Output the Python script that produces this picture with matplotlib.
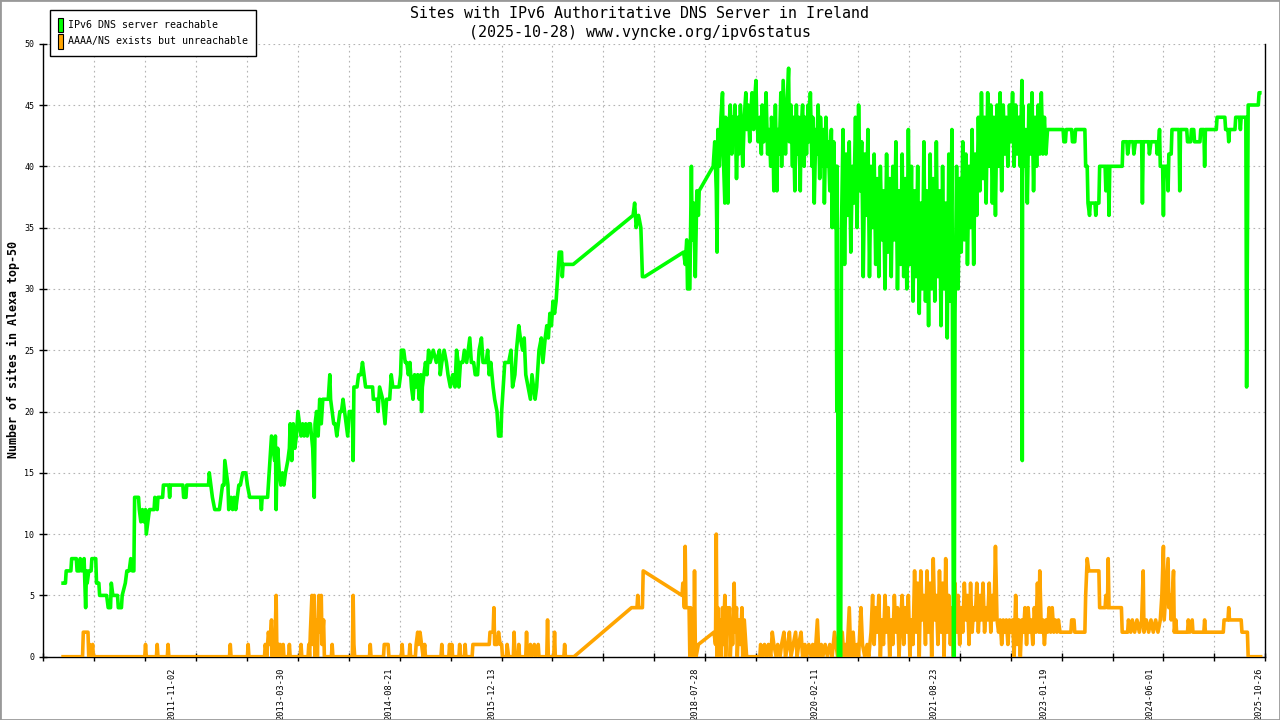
#!/usr/bin/env python3
"""Sites with IPv6 authoritative DNS server in Ireland - recreated chart."""

import datetime as dt
import numpy as np
import matplotlib
matplotlib.use('Agg')
import matplotlib.pyplot as plt
from matplotlib.patches import Patch, Rectangle

# --- data: (decimal year, number of sites) ---
green_2010_2014 = [
    (2010.44, 6), (2010.47, 6), (2010.48, 7), (2010.54, 7), (2010.55, 8), (2010.61, 8),
    (2010.62, 7), (2010.65, 7), (2010.66, 8), (2010.68, 7), (2010.71, 8), (2010.72, 6),
    (2010.73, 4), (2010.74, 7), (2010.75, 6), (2010.77, 7), (2010.80, 7), (2010.81, 8),
    (2010.86, 8), (2010.87, 6), (2010.90, 6), (2010.91, 5), (2011.00, 5), (2011.02, 4),
    (2011.05, 4), (2011.06, 6), (2011.08, 5), (2011.14, 5), (2011.15, 4), (2011.19, 4),
    (2011.20, 5), (2011.24, 6), (2011.26, 7), (2011.29, 7), (2011.31, 8), (2011.33, 7),
    (2011.35, 7), (2011.36, 13), (2011.41, 13), (2011.42, 12), (2011.44, 11), (2011.46, 12),
    (2011.48, 11), (2011.50, 12), (2011.51, 10), (2011.53, 11), (2011.55, 12), (2011.61, 12),
    (2011.62, 13), (2011.65, 12), (2011.66, 13), (2011.72, 13), (2011.73, 14), (2011.80, 14),
    (2011.81, 13), (2011.82, 14), (2011.98, 14), (2011.99, 13), (2012.02, 13), (2012.03, 14),
    (2012.31, 14), (2012.32, 15), (2012.34, 14), (2012.36, 13), (2012.39, 12), (2012.45, 12),
    (2012.47, 13), (2012.49, 14), (2012.51, 14), (2012.52, 16), (2012.54, 15), (2012.56, 14),
    (2012.57, 12), (2012.60, 13), (2012.62, 12), (2012.64, 13), (2012.66, 12), (2012.68, 13),
    (2012.70, 14), (2012.72, 14), (2012.75, 15), (2012.79, 15), (2012.81, 14), (2012.84, 13),
    (2012.98, 13), (2012.99, 12), (2013.00, 13), (2013.07, 13), (2013.08, 14), (2013.10, 16),
    (2013.11, 17), (2013.12, 18), (2013.14, 17), (2013.16, 16), (2013.17, 18), (2013.18, 12),
    (2013.19, 16), (2013.20, 17), (2013.22, 15), (2013.24, 14), (2013.26, 15), (2013.28, 14),
    (2013.30, 15), (2013.33, 16), (2013.35, 17), (2013.36, 19), (2013.38, 16), (2013.40, 19),
    (2013.42, 17), (2013.44, 18), (2013.46, 20), (2013.48, 19), (2013.50, 18), (2013.52, 19),
    (2013.54, 18), (2013.56, 19), (2013.58, 18), (2013.60, 19), (2013.62, 19), (2013.65, 17),
    (2013.67, 13), (2013.68, 19), (2013.70, 20), (2013.72, 18), (2013.74, 21), (2013.76, 19),
    (2013.78, 21), (2013.85, 21), (2013.87, 23), (2013.88, 21), (2013.90, 20), (2013.92, 19),
    (2013.94, 19), (2013.96, 18), (2013.98, 19), (2014.00, 20), (2014.02, 20), (2014.04, 21),
    (2014.06, 20), (2014.08, 19), (2014.10, 18), (2014.12, 20), (2014.16, 20), (2014.17, 16),
    (2014.18, 22), (2014.22, 22), (2014.24, 23), (2014.27, 23), (2014.29, 24), (2014.31, 23),
    (2014.33, 22), (2014.42, 22), (2014.43, 21), (2014.48, 21), (2014.49, 20), (2014.51, 22),
    (2014.55, 21), (2014.58, 19), (2014.60, 21), (2014.64, 21), (2014.66, 23), (2014.68, 22),
    (2014.76, 22), (2014.78, 23), (2014.79, 25), (2014.82, 25), (2014.84, 24), (2014.86, 24),
]

green_2014_2018 = [
    (2014.88, 23), (2014.90, 24), (2014.92, 22), (2014.94, 21), (2014.96, 23), (2014.98, 22),
    (2015.00, 23), (2015.02, 21), (2015.04, 23), (2015.05, 20), (2015.06, 22), (2015.08, 23),
    (2015.10, 24), (2015.12, 23), (2015.14, 25), (2015.16, 24), (2015.20, 25), (2015.24, 24),
    (2015.28, 25), (2015.29, 23), (2015.31, 24), (2015.34, 25), (2015.37, 24), (2015.39, 23),
    (2015.42, 22), (2015.45, 23), (2015.48, 22), (2015.50, 25), (2015.52, 24), (2015.53, 22),
    (2015.55, 24), (2015.58, 24), (2015.60, 25), (2015.63, 24), (2015.65, 25), (2015.67, 26),
    (2015.69, 24), (2015.72, 24), (2015.74, 23), (2015.77, 23), (2015.79, 25), (2015.82, 26),
    (2015.84, 24), (2015.88, 24), (2015.90, 25), (2015.92, 23), (2015.94, 24), (2015.97, 22),
    (2015.99, 21), (2016.02, 20), (2016.04, 18), (2016.07, 18), (2016.08, 20), (2016.10, 22),
    (2016.12, 24), (2016.17, 24), (2016.20, 25), (2016.22, 22), (2016.25, 23), (2016.27, 25),
    (2016.30, 27), (2016.32, 26), (2016.35, 25), (2016.37, 26), (2016.39, 23), (2016.42, 22),
    (2016.45, 21), (2016.47, 23), (2016.49, 22), (2016.51, 21), (2016.53, 22), (2016.56, 25),
    (2016.59, 26), (2016.61, 24), (2016.64, 26), (2016.66, 27), (2016.68, 26), (2016.70, 28),
    (2016.72, 27), (2016.74, 29), (2016.76, 28), (2016.78, 29), (2016.80, 31), (2016.82, 33),
    (2016.85, 33), (2016.86, 31), (2016.87, 32), (2017.00, 32), (2017.77, 36), (2017.79, 37),
    (2017.81, 35), (2017.84, 36), (2017.87, 35), (2017.89, 31), (2017.92, 31), (2018.42, 33),
    (2018.44, 32), (2018.46, 34), (2018.47, 30), (2018.50, 30), (2018.52, 40), (2018.53, 34),
    (2018.55, 37), (2018.57, 31), (2018.59, 38), (2018.61, 36), (2018.62, 38),
]

green_2018_2020 = [
    (2018.80, 40), (2018.82, 42), (2018.84, 38), (2018.85, 33), (2018.86, 43), (2018.88, 40),
    (2018.90, 44), (2018.92, 46), (2018.93, 41), (2018.95, 37), (2018.96, 44), (2018.98, 40),
    (2018.99, 37), (2019.00, 43), (2019.02, 45), (2019.04, 41), (2019.05, 44), (2019.07, 42),
    (2019.08, 45), (2019.10, 39), (2019.12, 44), (2019.13, 41), (2019.15, 45), (2019.17, 42),
    (2019.18, 40), (2019.20, 44), (2019.22, 46), (2019.23, 43), (2019.25, 45), (2019.27, 42),
    (2019.28, 44), (2019.30, 46), (2019.32, 43), (2019.33, 45), (2019.35, 47), (2019.36, 44),
    (2019.38, 42), (2019.40, 44), (2019.42, 41), (2019.43, 45), (2019.45, 42), (2019.47, 44),
    (2019.48, 46), (2019.50, 41), (2019.52, 43), (2019.54, 40), (2019.55, 44), (2019.57, 42),
    (2019.58, 38), (2019.60, 45), (2019.62, 38), (2019.63, 43), (2019.65, 41), (2019.67, 46),
    (2019.68, 40), (2019.70, 47), (2019.72, 43), (2019.73, 41), (2019.75, 45), (2019.77, 48),
    (2019.78, 42), (2019.80, 45), (2019.82, 40), (2019.83, 44), (2019.85, 38), (2019.87, 45),
    (2019.88, 41), (2019.90, 44), (2019.92, 38), (2019.93, 43), (2019.95, 45), (2019.97, 40),
    (2019.98, 44), (2020.00, 41), (2020.02, 45), (2020.03, 42), (2020.05, 46), (2020.07, 40),
    (2020.08, 44), (2020.10, 37), (2020.12, 43), (2020.13, 41), (2020.15, 45), (2020.17, 39),
    (2020.18, 44), (2020.20, 40), (2020.22, 43), (2020.23, 37), (2020.25, 44), (2020.27, 40),
    (2020.28, 42), (2020.30, 38), (2020.32, 43), (2020.33, 35), (2020.35, 42), (2020.37, 35),
    (2020.38, 40), (2020.39, 20), (2020.395, 40), (2020.41, 0), (2020.44, 0),
]

green_2020_2023 = [
    (2020.45, 35), (2020.47, 43), (2020.49, 32), (2020.51, 41), (2020.53, 36), (2020.55, 42),
    (2020.57, 33), (2020.59, 40), (2020.61, 37), (2020.63, 44), (2020.65, 35), (2020.67, 45),
    (2020.69, 38), (2020.71, 42), (2020.73, 31), (2020.75, 41), (2020.77, 36), (2020.79, 43),
    (2020.81, 31), (2020.83, 40), (2020.85, 35), (2020.87, 41), (2020.89, 32), (2020.91, 39),
    (2020.93, 31), (2020.95, 40), (2020.97, 34), (2020.99, 38), (2021.01, 30), (2021.03, 41),
    (2021.05, 33), (2021.07, 39), (2021.09, 31), (2021.11, 40), (2021.13, 34), (2021.15, 42),
    (2021.17, 30), (2021.19, 38), (2021.21, 32), (2021.23, 41), (2021.25, 31), (2021.27, 39),
    (2021.29, 30), (2021.31, 43), (2021.33, 32), (2021.35, 40), (2021.37, 29), (2021.39, 38),
    (2021.41, 31), (2021.43, 40), (2021.45, 28), (2021.47, 37), (2021.49, 30), (2021.51, 42),
    (2021.53, 29), (2021.55, 38), (2021.57, 27), (2021.59, 41), (2021.61, 30), (2021.63, 39),
    (2021.65, 29), (2021.67, 42), (2021.69, 31), (2021.71, 38), (2021.73, 27), (2021.75, 40),
    (2021.77, 30), (2021.79, 37), (2021.81, 26), (2021.83, 41), (2021.85, 29), (2021.87, 43),
    (2021.88, 20), (2021.89, 0), (2021.90, 0), (2021.91, 28), (2021.93, 40), (2021.95, 30),
    (2021.97, 39), (2021.99, 33), (2022.01, 42), (2022.03, 34), (2022.05, 41), (2022.07, 32),
    (2022.09, 40), (2022.11, 35), (2022.13, 43), (2022.15, 32), (2022.17, 41), (2022.19, 36),
    (2022.21, 44), (2022.23, 38), (2022.25, 46), (2022.27, 39), (2022.29, 44), (2022.31, 37),
    (2022.33, 46), (2022.35, 40), (2022.37, 45), (2022.39, 37), (2022.41, 44), (2022.43, 36),
    (2022.45, 45), (2022.47, 40), (2022.49, 46), (2022.51, 38), (2022.53, 45), (2022.55, 41),
    (2022.57, 44), (2022.59, 40), (2022.61, 45), (2022.63, 42), (2022.65, 46), (2022.67, 40),
    (2022.69, 45), (2022.71, 41), (2022.73, 44), (2022.75, 40), (2022.77, 47), (2022.775, 16),
    (2022.78, 45), (2022.80, 40), (2022.82, 43), (2022.84, 37), (2022.86, 45), (2022.88, 41),
    (2022.90, 46), (2022.92, 38), (2022.94, 44), (2022.96, 40), (2022.98, 45), (2023.00, 41),
    (2023.02, 46), (2023.04, 41), (2023.06, 44), (2023.08, 41), (2023.10, 43),
]

green_2023_2025 = [
    (2023.13, 43), (2023.30, 43), (2023.31, 42), (2023.33, 42), (2023.34, 43), (2023.41, 43),
    (2023.42, 42), (2023.45, 42), (2023.46, 43), (2023.58, 43), (2023.59, 40), (2023.61, 40),
    (2023.62, 37), (2023.64, 36), (2023.65, 37), (2023.71, 37), (2023.72, 36), (2023.73, 37),
    (2023.76, 37), (2023.77, 40), (2023.84, 40), (2023.85, 38), (2023.86, 40), (2023.88, 40),
    (2023.89, 36), (2023.90, 40), (2024.06, 40), (2024.07, 42), (2024.12, 42), (2024.13, 41),
    (2024.15, 42), (2024.20, 42), (2024.21, 41), (2024.23, 42), (2024.31, 42), (2024.32, 37),
    (2024.33, 42), (2024.40, 42), (2024.41, 41), (2024.43, 42), (2024.50, 42), (2024.51, 41),
    (2024.53, 42), (2024.54, 43), (2024.55, 40), (2024.58, 40), (2024.59, 36), (2024.60, 40),
    (2024.64, 40), (2024.65, 38), (2024.66, 41), (2024.69, 41), (2024.70, 43), (2024.79, 43),
    (2024.80, 38), (2024.81, 43), (2024.89, 43), (2024.90, 42), (2024.94, 42), (2024.95, 43),
    (2024.98, 43), (2024.99, 42), (2025.06, 42), (2025.07, 43), (2025.11, 43), (2025.12, 40),
    (2025.13, 43), (2025.27, 43), (2025.28, 44), (2025.38, 44), (2025.39, 43), (2025.42, 43),
    (2025.43, 42), (2025.44, 43), (2025.51, 43), (2025.52, 44), (2025.57, 44), (2025.58, 43),
    (2025.59, 44), (2025.65, 44), (2025.66, 22), (2025.67, 34), (2025.68, 45), (2025.81, 45),
    (2025.82, 46), (2025.83, 46),
]

orange_2010_2017 = [
    (2010.44, 0), (2010.69, 0), (2010.70, 2), (2010.76, 2), (2010.77, 0), (2010.78, 1),
    (2010.80, 0), (2010.82, 1), (2010.83, 0), (2011.49, 0), (2011.50, 1), (2011.51, 0),
    (2011.64, 0), (2011.65, 1), (2011.66, 0), (2011.78, 0), (2011.79, 1), (2011.80, 0),
    (2012.58, 0), (2012.59, 1), (2012.60, 0), (2012.81, 0), (2012.82, 1), (2012.83, 0),
    (2013.03, 0), (2013.04, 1), (2013.06, 0), (2013.08, 2), (2013.10, 1), (2013.12, 3),
    (2013.13, 0), (2013.14, 2), (2013.16, 0), (2013.18, 5), (2013.19, 0), (2013.21, 1),
    (2013.22, 0), (2013.23, 1), (2013.25, 0), (2013.27, 1), (2013.28, 0), (2013.34, 0),
    (2013.35, 1), (2013.36, 0), (2013.49, 0), (2013.50, 1), (2013.51, 0), (2013.59, 0),
    (2013.60, 1), (2013.61, 0), (2013.62, 2), (2013.64, 5), (2013.65, 1), (2013.67, 5),
    (2013.68, 0), (2013.70, 3), (2013.71, 0), (2013.73, 5), (2013.75, 2), (2013.76, 5),
    (2013.77, 1), (2013.79, 3), (2013.80, 0), (2013.89, 0), (2013.90, 1), (2013.91, 0),
    (2014.16, 0), (2014.17, 5), (2014.18, 1), (2014.19, 0), (2014.38, 0), (2014.39, 1),
    (2014.40, 0), (2014.56, 0), (2014.57, 1), (2014.62, 1), (2014.63, 0), (2014.79, 0),
    (2014.80, 1), (2014.81, 0), (2014.89, 0), (2014.90, 1), (2014.91, 0), (2014.97, 0),
    (2014.98, 1), (2015.00, 2), (2015.01, 1), (2015.03, 2), (2015.05, 1), (2015.07, 0),
    (2015.09, 1), (2015.10, 0), (2015.30, 0), (2015.31, 1), (2015.32, 0), (2015.40, 0),
    (2015.41, 1), (2015.42, 0), (2015.44, 1), (2015.45, 0), (2015.53, 0), (2015.54, 1),
    (2015.55, 0), (2015.60, 0), (2015.61, 1), (2015.62, 0), (2015.70, 0), (2015.71, 1),
    (2015.92, 1), (2015.93, 2), (2015.97, 2), (2015.98, 4), (2015.99, 1), (2016.02, 1),
    (2016.04, 2), (2016.06, 1), (2016.08, 1), (2016.09, 0), (2016.14, 0), (2016.15, 1),
    (2016.17, 0), (2016.23, 0), (2016.24, 2), (2016.25, 0), (2016.29, 0), (2016.30, 1),
    (2016.31, 0), (2016.39, 0), (2016.40, 2), (2016.41, 0), (2016.45, 1), (2016.46, 0),
    (2016.50, 1), (2016.51, 0), (2016.55, 1), (2016.56, 0), (2016.66, 0), (2016.67, 3),
    (2016.68, 0), (2016.75, 0), (2016.76, 2), (2016.77, 0), (2016.88, 0), (2016.89, 1),
    (2016.90, 0), (2017.01, 0), (2017.75, 4), (2017.82, 4), (2017.83, 5), (2017.84, 4),
    (2017.89, 4),
]

orange_2017_2020 = [
    (2017.90, 7), (2018.40, 5), (2018.41, 6), (2018.43, 4), (2018.44, 9), (2018.45, 4),
    (2018.49, 4), (2018.50, 0), (2018.51, 4), (2018.53, 1), (2018.55, 0), (2018.56, 7),
    (2018.57, 1), (2018.58, 0), (2018.61, 1), (2018.81, 2), (2018.83, 1), (2018.84, 10),
    (2018.85, 0), (2018.86, 4), (2018.87, 1), (2018.89, 3), (2018.90, 0), (2018.92, 4),
    (2018.93, 1), (2018.95, 5), (2018.96, 0), (2018.98, 4), (2018.99, 2), (2019.01, 4),
    (2019.02, 0), (2019.04, 3), (2019.05, 1), (2019.07, 6), (2019.08, 2), (2019.10, 4),
    (2019.11, 0), (2019.13, 3), (2019.15, 1), (2019.17, 4), (2019.18, 0), (2019.20, 3),
    (2019.22, 1), (2019.23, 0), (2019.40, 0), (2019.41, 1), (2019.44, 0), (2019.46, 1),
    (2019.49, 0), (2019.51, 1), (2019.54, 0), (2019.56, 2), (2019.58, 1), (2019.61, 0),
    (2019.63, 1), (2019.66, 0), (2019.68, 1), (2019.71, 2), (2019.73, 0), (2019.76, 1),
    (2019.78, 2), (2019.80, 0), (2019.83, 1), (2019.86, 2), (2019.88, 0), (2019.90, 1),
    (2019.93, 2), (2019.95, 0), (2019.98, 1), (2020.00, 0), (2020.03, 1), (2020.06, 0),
    (2020.08, 1), (2020.11, 0), (2020.14, 3), (2020.16, 0), (2020.19, 1), (2020.21, 0),
    (2020.24, 1), (2020.27, 0), (2020.30, 1), (2020.33, 0), (2020.36, 2), (2020.38, 1),
    (2020.40, 0), (2020.43, 1), (2020.46, 2), (2020.48, 0), (2020.50, 1), (2020.52, 0),
    (2020.55, 4), (2020.57, 0), (2020.60, 2), (2020.62, 0), (2020.65, 1), (2020.67, 0),
    (2020.70, 4), (2020.72, 1), (2020.75, 0), (2020.78, 1), (2020.80, 0), (2020.83, 2),
]

orange_2020_2023 = [
    (2020.85, 5), (2020.87, 1), (2020.89, 4), (2020.91, 2), (2020.93, 5), (2020.95, 0),
    (2020.97, 3), (2020.99, 1), (2021.01, 5), (2021.03, 2), (2021.05, 4), (2021.07, 0),
    (2021.09, 3), (2021.11, 1), (2021.13, 5), (2021.15, 2), (2021.17, 4), (2021.19, 0),
    (2021.21, 3), (2021.23, 5), (2021.25, 1), (2021.27, 4), (2021.29, 2), (2021.31, 5),
    (2021.33, 0), (2021.35, 3), (2021.37, 1), (2021.39, 7), (2021.41, 2), (2021.43, 6),
    (2021.45, 0), (2021.47, 7), (2021.49, 3), (2021.51, 5), (2021.53, 1), (2021.55, 7),
    (2021.57, 2), (2021.59, 6), (2021.61, 0), (2021.63, 8), (2021.65, 3), (2021.67, 5),
    (2021.69, 1), (2021.71, 7), (2021.73, 2), (2021.75, 6), (2021.77, 0), (2021.79, 8),
    (2021.81, 2), (2021.83, 5), (2021.85, 1), (2021.87, 4), (2021.89, 0), (2021.91, 6),
    (2021.93, 2), (2021.95, 5), (2021.97, 1), (2021.99, 4), (2022.01, 2), (2022.03, 6),
    (2022.05, 3), (2022.07, 5), (2022.09, 1), (2022.11, 6), (2022.13, 2), (2022.15, 4),
    (2022.17, 3), (2022.19, 6), (2022.21, 2), (2022.23, 5), (2022.25, 3), (2022.27, 6),
    (2022.29, 2), (2022.31, 4), (2022.33, 3), (2022.35, 6), (2022.37, 2), (2022.39, 5),
    (2022.41, 3), (2022.43, 9), (2022.45, 3), (2022.47, 2), (2022.49, 3), (2022.51, 1),
    (2022.53, 3), (2022.55, 2), (2022.57, 3), (2022.59, 1), (2022.61, 3), (2022.63, 2),
    (2022.65, 3), (2022.67, 0), (2022.69, 5), (2022.71, 1), (2022.73, 3), (2022.75, 0),
    (2022.77, 3), (2022.79, 2), (2022.81, 4), (2022.83, 1), (2022.85, 4), (2022.87, 2),
    (2022.89, 3), (2022.91, 1), (2022.93, 4), (2022.95, 2), (2022.97, 6), (2022.99, 2),
    (2023.00, 7), (2023.02, 2), (2023.04, 3), (2023.06, 1), (2023.08, 3), (2023.10, 2),
    (2023.12, 4), (2023.14, 2), (2023.16, 4), (2023.18, 2), (2023.20, 3), (2023.22, 2),
    (2023.24, 3),
]

orange_2023_2025 = [
    (2023.26, 2), (2023.40, 2), (2023.41, 3), (2023.44, 3), (2023.45, 2), (2023.58, 2),
    (2023.59, 5), (2023.61, 8), (2023.63, 7), (2023.76, 7), (2023.77, 4), (2023.84, 4),
    (2023.85, 5), (2023.87, 4), (2023.88, 8), (2023.89, 4), (2024.05, 4), (2024.06, 2),
    (2024.13, 2), (2024.14, 3), (2024.17, 2), (2024.19, 3), (2024.22, 2), (2024.25, 3),
    (2024.28, 2), (2024.31, 3), (2024.33, 7), (2024.34, 2), (2024.37, 3), (2024.40, 2),
    (2024.43, 3), (2024.46, 2), (2024.49, 3), (2024.52, 2), (2024.55, 3), (2024.57, 5),
    (2024.59, 9), (2024.60, 3), (2024.62, 5), (2024.65, 8), (2024.66, 4), (2024.68, 5),
    (2024.69, 3), (2024.72, 7), (2024.73, 2), (2024.75, 3), (2024.76, 2), (2024.90, 2),
    (2024.91, 3), (2024.93, 2), (2024.96, 3), (2024.97, 2), (2025.11, 2), (2025.12, 3),
    (2025.13, 2), (2025.36, 2), (2025.37, 3), (2025.42, 3), (2025.43, 4), (2025.44, 3),
    (2025.59, 3), (2025.60, 2), (2025.67, 2), (2025.68, 0), (2025.84, 0),
]

date_labels = ['2011-11-02', '2013-03-30', '2014-08-21', '2015-12-13', '2018-07-28',
               '2020-02-11', '2021-08-23', '2023-01-19', '2024-06-01', '2025-10-26']

title_lines = ['Sites with IPv6 Authoritative DNS Server in Ireland',
               '(2025-10-28) www.vyncke.org/ipv6status']
legend_labels = ['IPv6 DNS server reachable', 'AAAA/NS exists but unreachable']
y_label = 'Number of sites in Alexa top-50'

GREEN = '#00ff00'
ORANGE = '#ffa500'
MONO = ['DejaVu Sans Mono']


def decimal_year(s):
    d = dt.date.fromisoformat(s)
    start = dt.date(d.year, 1, 1)
    n_days = (dt.date(d.year + 1, 1, 1) - start).days
    return d.year + (d - start).days / n_days


def unzip(*segments):
    pts = [p for seg in segments for p in seg]
    return [p[0] for p in pts], [p[1] for p in pts]


green_x, green_y = unzip(green_2010_2014, green_2014_2018, green_2018_2020,
                         green_2020_2023, green_2023_2025)
orange_x, orange_y = unzip(orange_2010_2017, orange_2017_2020,
                           orange_2020_2023, orange_2023_2025)

fig = plt.figure(figsize=(12.8, 7.2), dpi=100)
ax = fig.add_axes([0.0338, 0.0879, 0.9547, 0.8514])

x_min, x_max = 2010.185, 2025.90
ax.plot(orange_x, orange_y, color=ORANGE, lw=2.6, zorder=3)
ax.plot(green_x, green_y, color=GREEN, lw=2.6, zorder=4)

ax.set_xlim(x_min, x_max)
ax.set_ylim(0, 50)

# unlabeled x ticks every 1/24 of the range, dates written separately
ax.set_xticks(np.linspace(x_min, x_max, 25))
ax.set_xticklabels([])
ax.set_yticks(np.arange(0, 51, 5))
ax.tick_params(direction='inout', length=6, width=1, colors='black',
               labelsize=6, pad=3.5)
for lbl in ax.get_yticklabels():
    lbl.set_family(MONO)

ax.grid(True, color='#b4b4b4', linestyle=(0, (1.5, 3)), linewidth=0.8)
ax.set_axisbelow(True)
ax.spines['top'].set_visible(False)
for side in ['left', 'bottom', 'right']:
    ax.spines[side].set_linewidth(1)

for s in date_labels:
    ax.annotate(s, xy=(decimal_year(s), 0), xycoords=('data', 'axes fraction'),
                xytext=(0, -8), textcoords='offset points', rotation=90,
                ha='center', va='top', fontsize=6.2, family=MONO)

fig.text(0.5, 1 - 13 / 720, title_lines[0], ha='center', va='center',
         fontsize=10.8, family=MONO)
fig.text(0.5, 1 - 32 / 720, title_lines[1], ha='center', va='center',
         fontsize=10.8, family=MONO)
fig.text(13 / 1280, 1 - 349 / 720, y_label, rotation=90, ha='center', va='center',
         fontsize=8.4, fontweight='bold', family=MONO)

handles = [Patch(facecolor=GREEN, edgecolor='black', lw=0.8),
           Patch(facecolor=ORANGE, edgecolor='black', lw=0.8)]
leg = fig.legend(handles, legend_labels, loc='upper left',
                 bbox_to_anchor=(50 / 1280, 1 - 10 / 720), frameon=True,
                 fancybox=False, edgecolor='black', framealpha=1,
                 prop={'family': MONO, 'size': 7.2}, handlelength=0.55,
                 handleheight=1.9, handletextpad=0.55, labelspacing=0.15,
                 borderpad=0.75, borderaxespad=0)
leg.get_frame().set_linewidth(1)

fig.patches.append(Rectangle((0, 0), 1, 1, transform=fig.transFigure, fill=False,
                             edgecolor='#999999', lw=2))

fig.savefig('out.png', dpi=100)
